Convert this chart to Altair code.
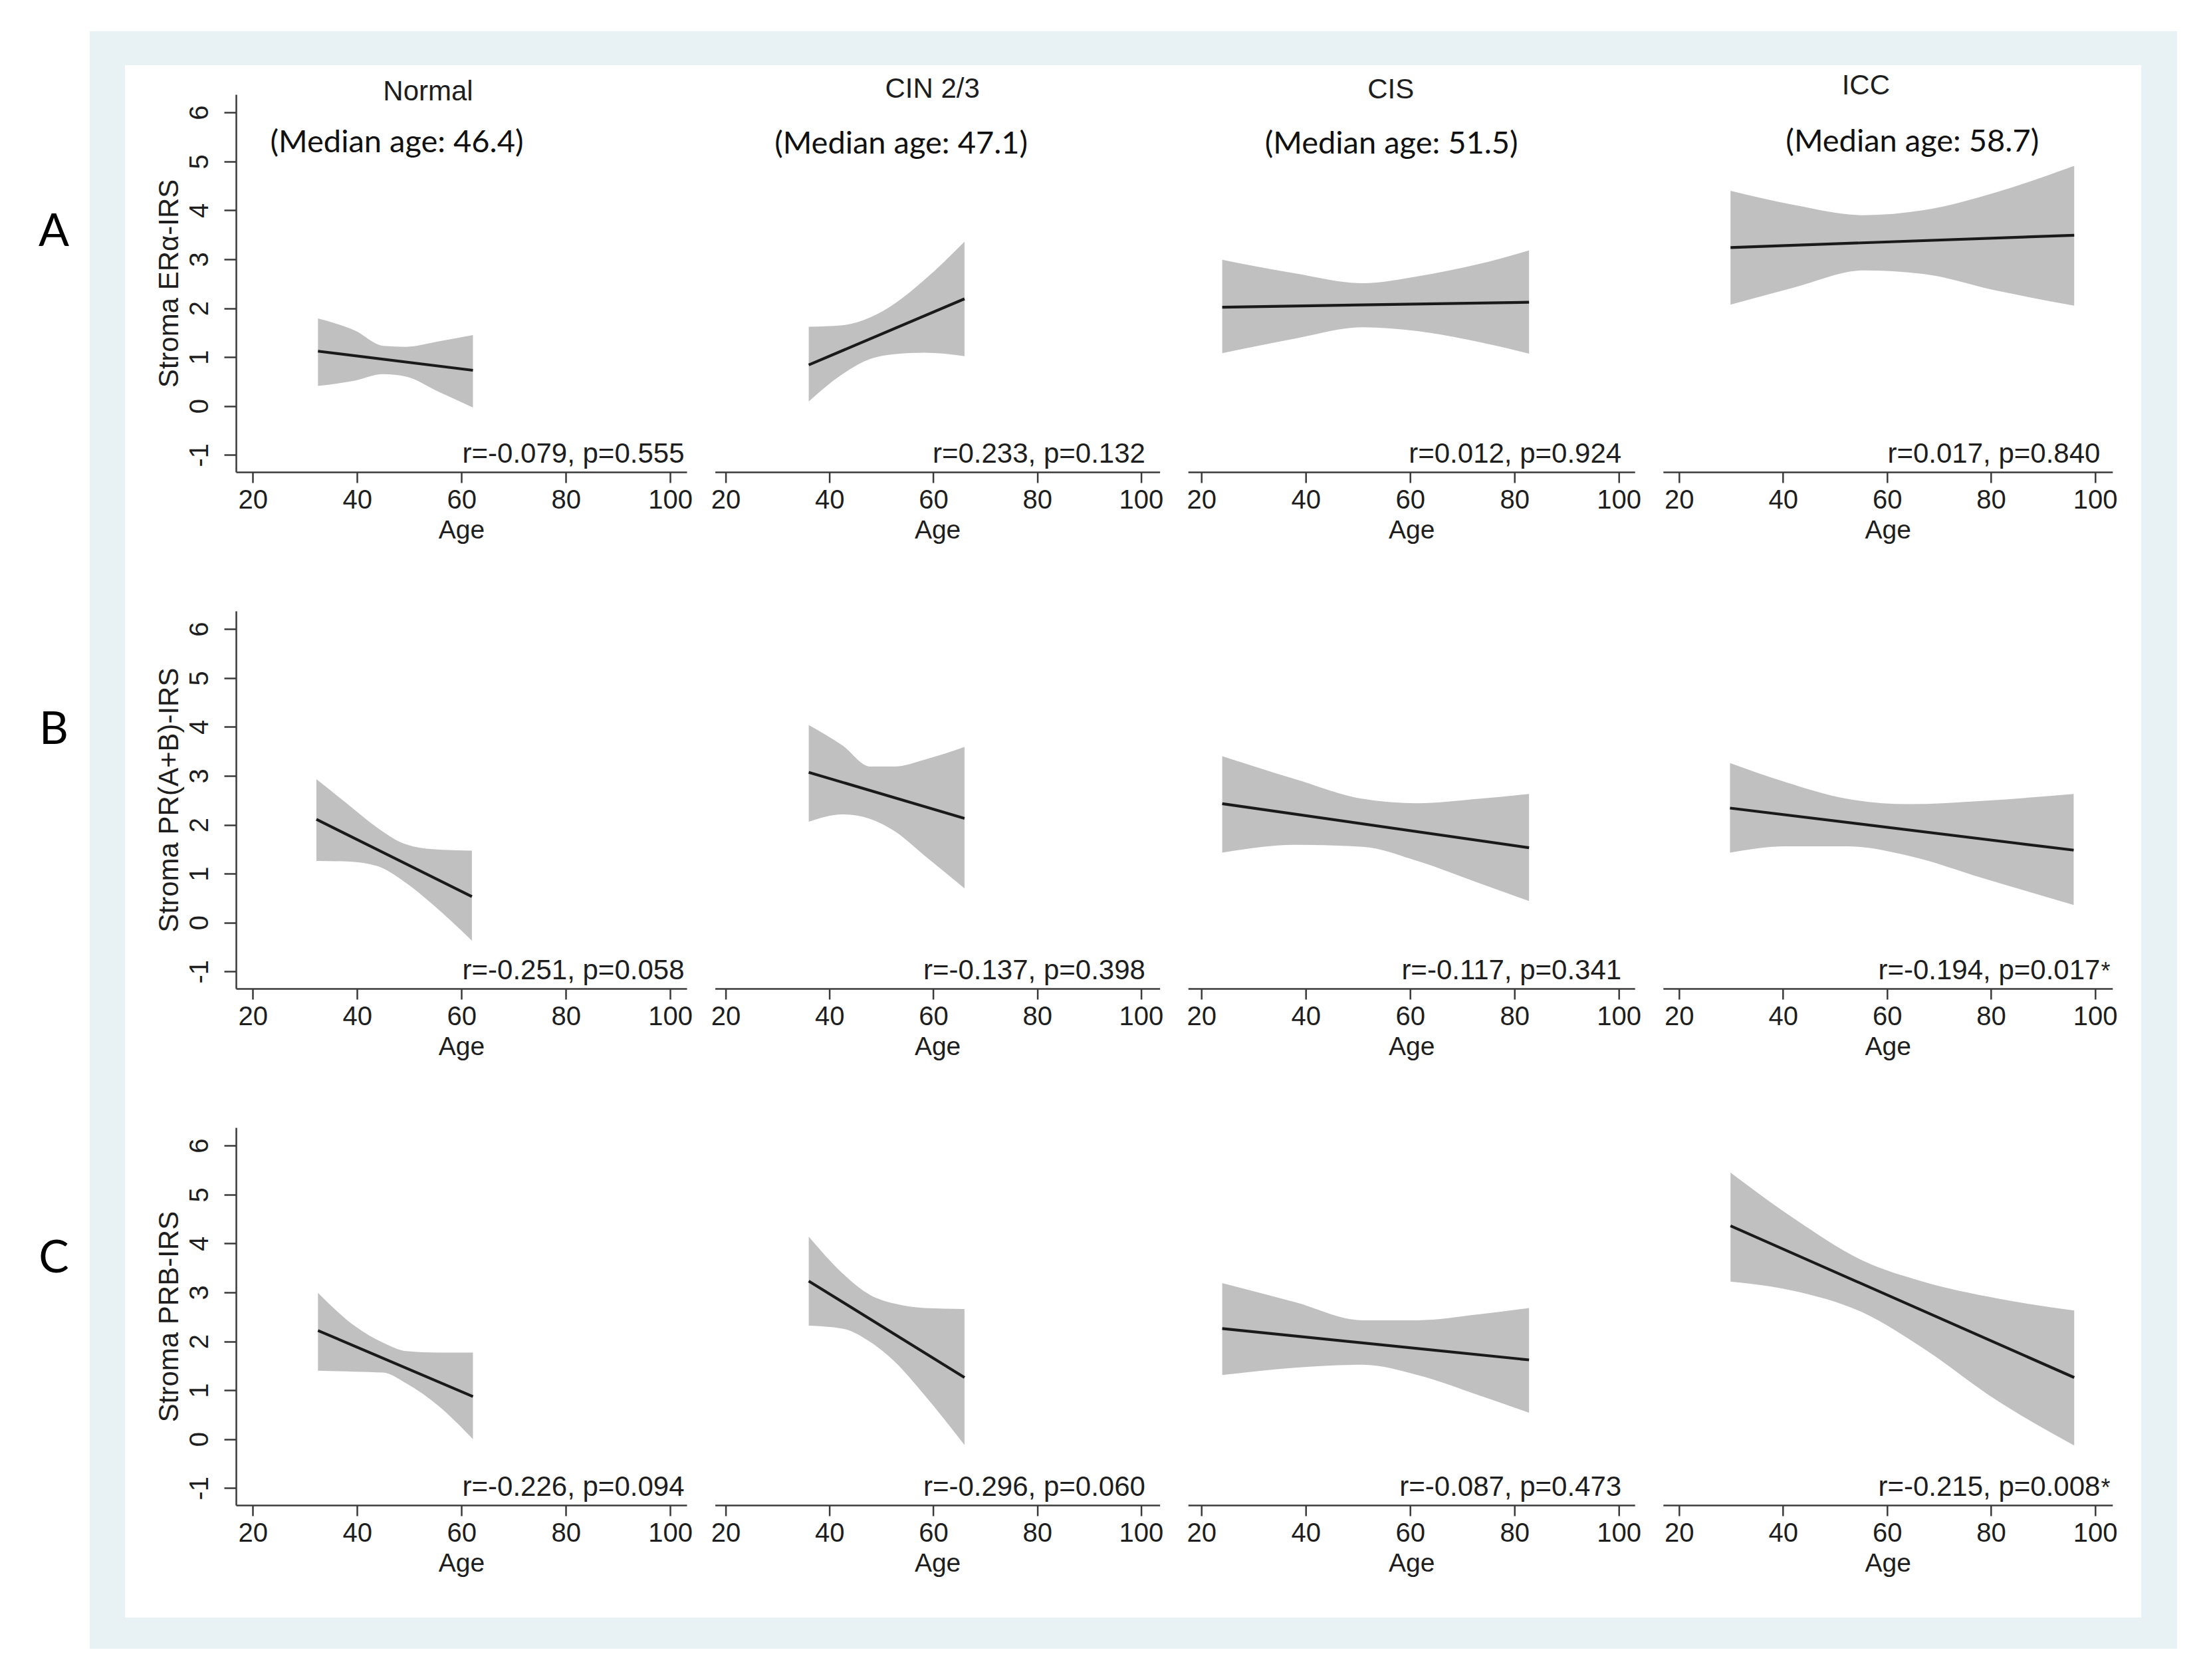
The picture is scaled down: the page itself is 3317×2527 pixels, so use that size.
import altair as alt
import pandas as pd

# ------------------------------------------------------------------ data
GROUPS = ["Normal", "CIN 2/3", "CIS", "ICC"]
MEDIAN_AGES = [46.4, 47.1, 51.5, 58.7]
ROWS = ["A", "B", "C"]
Y_TITLES = ["Stroma ERα-IRS", "Stroma PR(A+B)-IRS", "Stroma PRB-IRS"]
R_VALUES = [[-0.079, 0.233, 0.012, 0.017],
            [-0.251, -0.137, -0.117, -0.194],
            [-0.226, -0.296, -0.087, -0.215]]
P_VALUES = [[0.555, 0.132, 0.924, 0.840],
            [0.058, 0.398, 0.341, 0.017],
            [0.094, 0.060, 0.473, 0.008]]
X_TICKS = [20, 40, 60, 80, 100]
Y_TICKS = [-1, 0, 1, 2, 3, 4, 5, 6]

# fitted line (value at first and last age) and 95% CI band
A1_AGE = [32.5, 39.6, 45.0, 49.4, 55.6, 62.2]
A1_HI = [1.79, 1.54, 1.23, 1.21, 1.32, 1.45]
A1_LO = [0.41, 0.52, 0.65, 0.60, 0.29, -0.03]
A1_FIT = [1.12, 0.73]

A2_AGE = [36.0, 42.5, 47.8, 52.5, 58.3, 66.0]
A2_HI = [1.62, 1.65, 1.81, 2.09, 2.58, 3.36]
A2_LO = [0.09, 0.65, 0.96, 1.06, 1.09, 1.02]
A2_FIT = [0.84, 2.19]

A3_AGE = [24.0, 38.0, 50.9, 61.4, 73.1, 82.8]
A3_HI = [2.99, 2.71, 2.51, 2.65, 2.90, 3.18]
A3_LO = [1.08, 1.38, 1.61, 1.53, 1.31, 1.07]
A3_FIT = [2.02, 2.12]

A4_AGE = [29.9, 42.1, 55.5, 66.9, 81.0, 96.0]
A4_HI = [4.40, 4.11, 3.90, 4.00, 4.37, 4.91]
A4_LO = [2.07, 2.42, 2.77, 2.70, 2.36, 2.05]
A4_FIT = [3.24, 3.49]

B1_AGE = [32.2, 38.1, 44.0, 48.6, 54.5, 62.0]
B1_HI = [2.93, 2.43, 1.93, 1.63, 1.50, 1.47]
B1_LO = [1.26, 1.25, 1.15, 0.87, 0.37, -0.37]
B1_FIT = [2.11, 0.53]

B2_AGE = [36.0, 42.5, 47.8, 52.5, 58.3, 66.0]
B2_HI = [4.04, 3.62, 3.19, 3.19, 3.33, 3.59]
B2_LO = [2.06, 2.21, 2.12, 1.87, 1.37, 0.70]
B2_FIT = [3.07, 2.13]

B3_AGE = [24.0, 38.0, 50.9, 61.4, 73.1, 82.8]
B3_HI = [3.40, 2.93, 2.53, 2.44, 2.53, 2.63]
B3_LO = [1.43, 1.59, 1.55, 1.26, 0.81, 0.44]
B3_FIT = [2.43, 1.53]

B4_AGE = [29.8, 40.5, 52.3, 64.0, 78.7, 95.9]
B4_HI = [3.26, 2.87, 2.53, 2.42, 2.49, 2.63]
B4_LO = [1.43, 1.56, 1.56, 1.37, 0.90, 0.36]
B4_FIT = [2.34, 1.48]

C1_AGE = [32.5, 39.6, 45.0, 49.4, 55.6, 62.2]
C1_HI = [2.99, 2.31, 1.97, 1.80, 1.77, 1.77]
C1_LO = [1.40, 1.38, 1.36, 1.14, 0.68, 0.00]
C1_FIT = [2.22, 0.87]

C2_AGE = [36.0, 42.5, 47.8, 52.5, 58.3, 66.0]
C2_HI = [4.14, 3.39, 2.95, 2.77, 2.68, 2.66]
C2_LO = [2.32, 2.26, 1.99, 1.59, 0.90, -0.12]
C2_FIT = [3.23, 1.26]

C3_AGE = [24.0, 38.0, 50.9, 61.4, 73.1, 82.8]
C3_HI = [3.19, 2.80, 2.43, 2.43, 2.55, 2.68]
C3_LO = [1.31, 1.46, 1.52, 1.31, 0.90, 0.54]
C3_FIT = [2.26, 1.62]

C4_AGE = [29.9, 42.1, 55.5, 66.9, 81.0, 96.0]
C4_HI = [5.45, 4.51, 3.64, 3.22, 2.88, 2.63]
C4_LO = [3.22, 3.03, 2.58, 1.86, 0.80, -0.13]
C4_FIT = [4.36, 1.26]

PANELS = {
    "A1": (A1_AGE, A1_HI, A1_LO, A1_FIT), "A2": (A2_AGE, A2_HI, A2_LO, A2_FIT),
    "A3": (A3_AGE, A3_HI, A3_LO, A3_FIT), "A4": (A4_AGE, A4_HI, A4_LO, A4_FIT),
    "B1": (B1_AGE, B1_HI, B1_LO, B1_FIT), "B2": (B2_AGE, B2_HI, B2_LO, B2_FIT),
    "B3": (B3_AGE, B3_HI, B3_LO, B3_FIT), "B4": (B4_AGE, B4_HI, B4_LO, B4_FIT),
    "C1": (C1_AGE, C1_HI, C1_LO, C1_FIT), "C2": (C2_AGE, C2_HI, C2_LO, C2_FIT),
    "C3": (C3_AGE, C3_HI, C3_LO, C3_FIT), "C4": (C4_AGE, C4_HI, C4_LO, C4_FIT),
}

# ------------------------------------------------------------------ layout / style
X_DOMAINS = [[16.79, 103.16], [17.95, 103.6], [17.45, 103.06], [16.93, 103.36]]
WIDTHS = [678, 669, 672, 676]
HEIGHT = 568
Y_DOMAIN = [-1.35, 6.37]
COL_GAP = 42.6
ROW_GAP = 209

TITLE_X = [289, 327, 305, 305]
TITLE_Y = [-4, -8, -7, -13]
MED_X = [242, 280, 306, 375]
MED_Y = [73, 75, 75, 72]
RTXT_X = [674.5, 647.3, 652, 657.6]
RTXT_Y = HEIGHT - 14.5
LETTER_X = -274
LETTER_Y = [208, 180, 198]

SANS = "Liberation Sans"
HUMAN = "Lato"
AXC = "#3a3a3a"
TXT = "#1e1e1e"
BAND = "#c0c0c0"
FRAME = "#e8f1f4"

ONE = pd.DataFrame({"k": [0]})


def text_layer(txt, x, y, size, font, align="center", baseline="middle", color=TXT):
    return alt.Chart(ONE).mark_text(
        text=txt, fontSize=size, font=font, align=align, baseline=baseline, color=color
    ).encode(x=alt.value(x), y=alt.value(y))


def rect_layer(x0, x1, y0, y1, color):
    return alt.Chart(ONE).mark_rect(color=color).encode(
        x=alt.value(x0), x2=alt.value(x1), y=alt.value(y0), y2=alt.value(y1)
    )


def panel(r, c):
    key = f"{ROWS[r]}{c + 1}"
    ages, hi, lo, fit = PANELS[key]
    band_df = pd.DataFrame({"age": ages, "lo": lo, "hi": hi})
    fit_df = pd.DataFrame({"age": [ages[0], ages[-1]], "fit": fit})

    xsc = alt.Scale(domain=X_DOMAINS[c], nice=False, zero=False)
    ysc = alt.Scale(domain=Y_DOMAIN, nice=False, zero=False)
    xax = alt.Axis(values=X_TICKS, title="Age", grid=False, tickSize=16, tickWidth=2.5,
                   domainWidth=2.5, domainColor=AXC, tickColor=AXC,
                   labelFont=SANS, labelFontSize=40, labelColor=TXT, labelPadding=6,
                   labelFlush=False, labelOverlap=False,
                   titleFont=SANS, titleFontSize=39, titleFontWeight="normal",
                   titleColor=TXT, titlePadding=6, zindex=1)
    if c == 0:
        yax = alt.Axis(values=Y_TICKS, title=Y_TITLES[r], grid=False, tickSize=18, tickWidth=2.5,
                       domainWidth=2.5, domainColor=AXC, tickColor=AXC,
                       labelFont=SANS, labelFontSize=40, labelColor=TXT, labelAngle=270,
                       labelExpr="toString(datum.value)",
                       labelPadding=17, labelFlush=False, labelOverlap=False,
                       titleFont=SANS, titleFontSize=42, titleFontWeight="normal",
                       titleColor=TXT, titlePadding=4, zindex=1)
    else:
        yax = None

    layers = []
    if r == 0 and c == 0:
        # page white, light blue frame, white inner panel (background decoration)
        layers.append(rect_layer(-347, 2954, -134, 2377, "#ffffff"))
        layers.append(rect_layer(-220, 2920, -95, 2338, FRAME))
        layers.append(rect_layer(-167, 2866, -44, 2291, "#ffffff"))

    band = alt.Chart(band_df).mark_area(color=BAND, opacity=1, interpolate="monotone").encode(
        x=alt.X("age:Q", scale=xsc, axis=xax),
        y=alt.Y("lo:Q", scale=ysc, axis=yax),
        y2="hi:Q",
    )
    line = alt.Chart(fit_df).mark_line(color="#1a1a1a", strokeWidth=4.2).encode(
        x=alt.X("age:Q", scale=xsc, axis=xax),
        y=alt.Y("fit:Q", scale=ysc, axis=yax),
    )
    layers += [band, line]

    rv, pv = R_VALUES[r][c], P_VALUES[r][c]
    layers.append(text_layer(f"r={rv:.3f}, p={pv:.3f}", RTXT_X[c], RTXT_Y, 42, SANS,
                             align="right", baseline="alphabetic"))
    if pv < 0.05:
        layers.append(text_layer("*", RTXT_X[c] + 1, RTXT_Y, 36, SANS,
                                 align="left", baseline="alphabetic"))

    if r == 0:
        layers.append(text_layer(GROUPS[c], TITLE_X[c], TITLE_Y[c], 42, SANS))
        layers.append(text_layer(f"(Median age: {MEDIAN_AGES[c]})", MED_X[c], MED_Y[c], 47,
                                 HUMAN, color="#111111"))
    if c == 0:
        layers.append(text_layer(ROWS[r], LETTER_X, LETTER_Y[r], 68, HUMAN, color="#000000"))

    return alt.layer(*layers).properties(width=WIDTHS[c], height=HEIGHT)


charts = [panel(r, c) for r in range(3) for c in range(4)]

chart = alt.concat(
    *charts, columns=4, spacing={"row": ROW_GAP, "column": COL_GAP}, bounds="flush"
).properties(padding=0, background="white").configure(
    font=SANS, view=alt.ViewConfig(stroke=None)
)

chart.save("out.html", embed_options={"renderer": "svg", "actions": False})
